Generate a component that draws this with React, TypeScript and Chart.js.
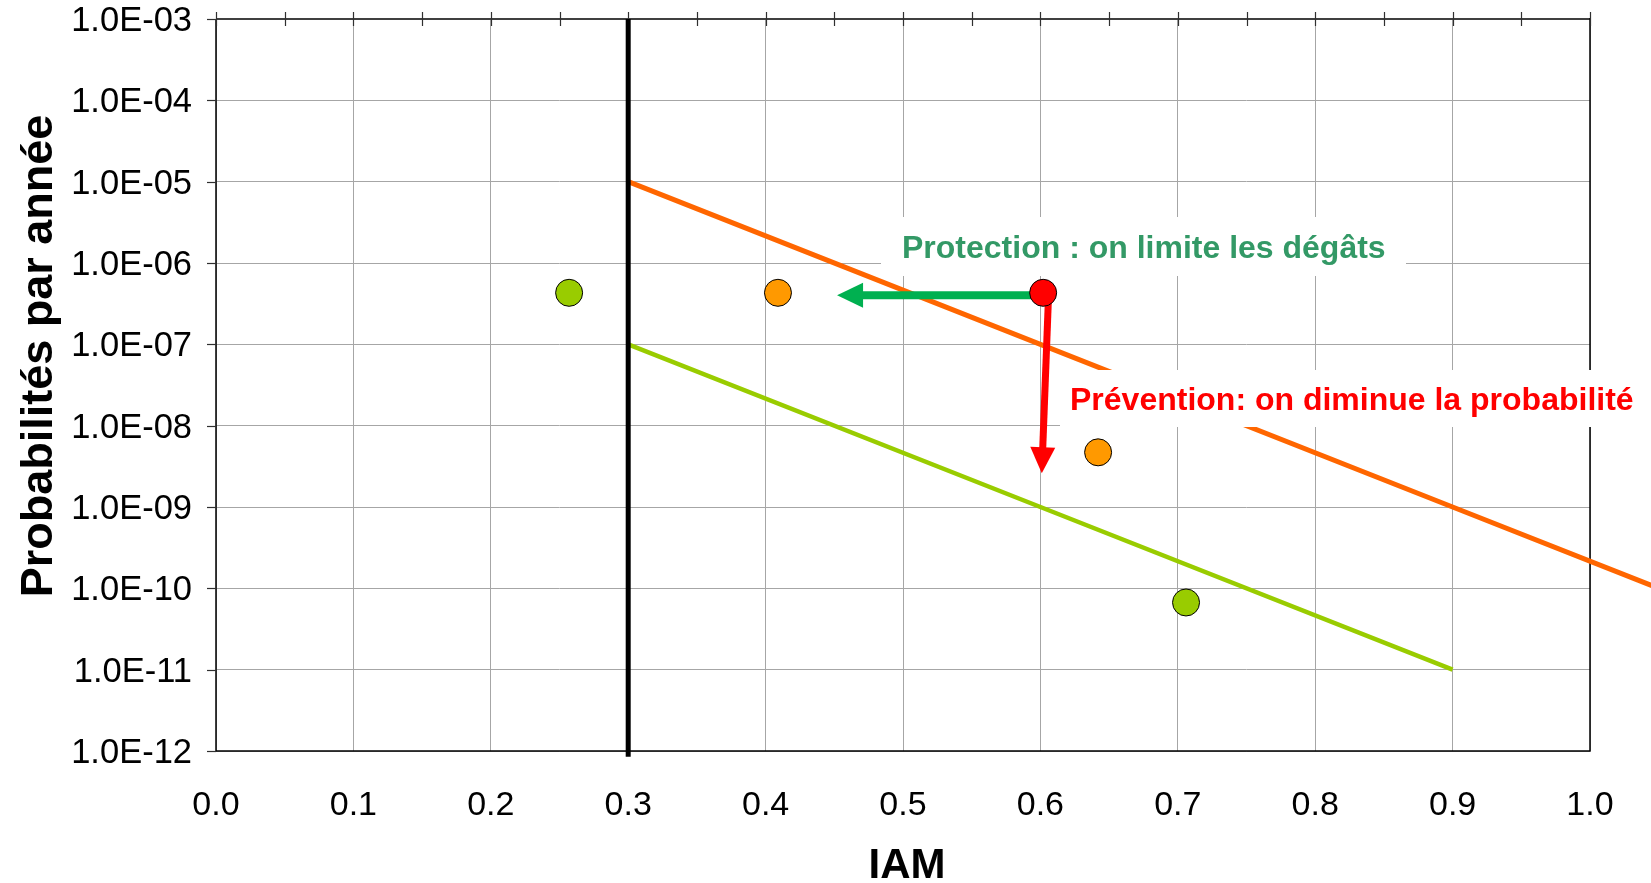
import React, { useEffect, useRef } from "react";
import { Chart, registerables } from "chart.js";

Chart.register(...registerables);

// ---------- data ----------
const xTickValues = [0, 0.1, 0.2, 0.3, 0.4, 0.5, 0.6, 0.7, 0.8, 0.9, 1.0];
const xTickLabels = ["0.0", "0.1", "0.2", "0.3", "0.4", "0.5", "0.6", "0.7", "0.8", "0.9", "1.0"];
const yTickValues = [1e-3, 1e-4, 1e-5, 1e-6, 1e-7, 1e-8, 1e-9, 1e-10, 1e-11, 1e-12];
const yTickLabels = ["1.0E-03", "1.0E-04", "1.0E-05", "1.0E-06", "1.0E-07", "1.0E-08", "1.0E-09", "1.0E-10", "1.0E-11", "1.0E-12"];
const topMinorTicks = [0, 0.05, 0.1, 0.15, 0.2, 0.25, 0.3, 0.35, 0.4, 0.45, 0.5, 0.55, 0.6, 0.65, 0.7, 0.75, 0.8, 0.85, 0.9, 0.95, 1.0];

const orangeLimitX = [0.3, 0.6, 0.9, 1.05];
const orangeLimitY = [1e-5, 1e-7, 1e-9, 1e-10];
const greenLimitX = [0.3, 0.6, 0.9];
const greenLimitY = [1e-7, 1e-9, 1e-11];
const thresholdX = [0.3, 0.3];
const thresholdY = [1e-3, 8.5e-13];

const scenarioX = [0.257, 0.409, 0.602, 0.642, 0.706];
const scenarioY = [4.3e-7, 4.3e-7, 4.3e-7, 4.7e-9, 6.7e-11];
const scenarioColors = ["#99cc00", "#ff9900", "#ff0000", "#ff9900", "#99cc00"];

const protectionArrowX = [0.602, 0.452];
const protectionArrowY = [4.0e-7, 4.0e-7];
const preventionArrowX = [0.606, 0.601];
const preventionArrowY = [4.3e-7, 2.6e-9];

const protectionText = "Protection : on limite les dégâts";
const preventionText = "Prévention: on diminue la probabilité";
const yTitle = "Probabilités par année";
const xTitle = "IAM";

const FONT = '"Liberation Sans", Arial, Helvetica, sans-serif';

function toPoints(xs: number[], ys: number[]) {
  return xs.map((x, i) => ({ x, y: ys[i] }));
}

function drawArrow(
  ctx: CanvasRenderingContext2D,
  x0: number, y0: number, x1: number, y1: number,
  color: string, shaft: number, headLen: number, headHalf: number
) {
  const dx = x1 - x0, dy = y1 - y0;
  const len = Math.hypot(dx, dy);
  const ux = dx / len, uy = dy / len;
  const bx = x1 - ux * headLen, by = y1 - uy * headLen;
  const nx = -uy, ny = ux;
  ctx.save();
  ctx.strokeStyle = color;
  ctx.fillStyle = color;
  ctx.lineWidth = shaft;
  ctx.lineCap = "butt";
  ctx.beginPath();
  ctx.moveTo(x0, y0);
  ctx.lineTo(bx + ux * 1, by + uy * 1);
  ctx.stroke();
  ctx.beginPath();
  ctx.moveTo(x1, y1);
  ctx.lineTo(bx + nx * headHalf, by + ny * headHalf);
  ctx.lineTo(bx - nx * headHalf, by - ny * headHalf);
  ctx.closePath();
  ctx.fill();
  ctx.restore();
}

const decorPlugin = {
  id: "decor",
  beforeDatasetsDraw(chart: any) {
    const { ctx, chartArea: a } = chart;
    const xs = chart.scales.x;
    const ys = chart.scales.y;
    ctx.save();
    ctx.lineCap = "butt";
    ctx.strokeStyle = "#404040";
    ctx.lineWidth = 2;
    ctx.beginPath();
    ctx.moveTo(a.left, a.top);
    ctx.lineTo(a.right, a.top);
    ctx.stroke();
    ctx.strokeStyle = "#000000";
    ctx.lineWidth = 1.5;
    ctx.beginPath();
    ctx.moveTo(a.left, a.top);
    ctx.lineTo(a.left, a.bottom);
    ctx.lineTo(a.right, a.bottom);
    ctx.lineTo(a.right, a.top - 1);
    ctx.stroke();
    ctx.strokeStyle = "#303030";
    ctx.lineWidth = 1.2;
    topMinorTicks.forEach((v) => {
      const px = Math.round(xs.getPixelForValue(v)) + 0.5;
      ctx.beginPath();
      ctx.moveTo(px, a.top - 7);
      ctx.lineTo(px, a.top + 7);
      ctx.stroke();
    });
    yTickValues.forEach((v) => {
      const py = Math.round(ys.getPixelForValue(v)) + 0.5;
      ctx.beginPath();
      ctx.moveTo(a.left - 9, py);
      ctx.lineTo(a.left, py);
      ctx.stroke();
    });
    ctx.restore();
  },
  beforeDatasetDraw(chart: any, args: any) {
    if (args.index !== 3) return;
    const { ctx } = chart;
    const xs = chart.scales.x;
    const ys = chart.scales.y;
    ctx.save();
    ctx.fillStyle = "#ffffff";
    ctx.fillRect(881, 217, 525, 59);
    ctx.fillRect(1060, 370, 591, 57);
    ctx.textAlign = "left";
    ctx.textBaseline = "alphabetic";
    ctx.font = `bold 32px ${FONT}`;
    ctx.fillStyle = "#339966";
    ctx.fillText(protectionText, 902, 258);
    ctx.font = `bold 32px ${FONT}`;
    ctx.fillStyle = "#ff0000";
    ctx.fillText(preventionText, 1070, 410);
    drawArrow(
      ctx,
      xs.getPixelForValue(protectionArrowX[0]), ys.getPixelForValue(protectionArrowY[0]),
      xs.getPixelForValue(protectionArrowX[1]), ys.getPixelForValue(protectionArrowY[1]),
      "#00b050", 8, 26, 12.5
    );
    drawArrow(
      ctx,
      xs.getPixelForValue(preventionArrowX[0]), ys.getPixelForValue(preventionArrowY[0]),
      xs.getPixelForValue(preventionArrowX[1]), ys.getPixelForValue(preventionArrowY[1]),
      "#ff0000", 7, 26, 12.5
    );
    ctx.restore();
  },
  afterDraw(chart: any) {
    const { ctx, chartArea: a } = chart;
    const xs = chart.scales.x;
    const ys = chart.scales.y;
    ctx.save();
    ctx.fillStyle = "#000000";
    ctx.font = `34.5px ${FONT}`;
    ctx.textAlign = "right";
    ctx.textBaseline = "alphabetic";
    yTickValues.forEach((v, i) => {
      const py = ys.getPixelForValue(v);
      ctx.fillText(yTickLabels[i], a.left - 24, py + 12);
    });
    ctx.font = `34px ${FONT}`;
    ctx.textAlign = "center";
    xTickValues.forEach((v, i) => {
      const px = xs.getPixelForValue(v);
      ctx.fillText(xTickLabels[i], px, a.bottom + 64);
    });
    ctx.font = `bold 42px ${FONT}`;
    ctx.fillText(xTitle, 907, 878);
    ctx.translate(52, 356);
    ctx.rotate(-Math.PI / 2);
    ctx.font = `bold 45px ${FONT}`;
    ctx.textAlign = "center";
    ctx.fillText(yTitle, 0, 0);
    ctx.restore();
  },
};

export default function App() {
  const ref = useRef<HTMLCanvasElement | null>(null);
  useEffect(() => {
    if (!ref.current) return;
    const chart = new Chart(ref.current, {
      type: "scatter",
      data: {
        datasets: [
          {
            label: "Limite orange",
            data: toPoints(orangeLimitX, orangeLimitY),
            showLine: true,
            borderColor: "#ff6600",
            borderWidth: 5,
            pointRadius: 0,
            clip: false as any,
            order: 3,
          },
          {
            label: "Limite verte",
            data: toPoints(greenLimitX, greenLimitY),
            showLine: true,
            borderColor: "#99cc00",
            borderWidth: 4.5,
            pointRadius: 0,
            clip: false as any,
            order: 2,
          },
          {
            label: "Seuil",
            data: toPoints(thresholdX, thresholdY),
            showLine: true,
            borderColor: "#000000",
            borderWidth: 5,
            pointRadius: 0,
            clip: false as any,
            order: 1,
          },
          {
            label: "Scénarios",
            data: toPoints(scenarioX, scenarioY),
            showLine: false,
            backgroundColor: scenarioColors,
            borderColor: "#000000",
            borderWidth: 1,
            pointRadius: 13.5,
            pointHoverRadius: 13.5,
            clip: false as any,
            order: 0,
          },
        ],
      },
      options: {
        animation: false,
        responsive: false,
        events: [],
        layout: { padding: { left: 216, top: 19, right: 61, bottom: 132 } },
        plugins: {
          legend: { display: false },
          tooltip: { enabled: false },
          title: { display: false },
        },
        scales: {
          x: {
            type: "linear",
            min: 0,
            max: 1,
            afterBuildTicks: (scale: any) => {
              scale.ticks = xTickValues.map((v) => ({ value: v }));
            },
            ticks: { display: false },
            grid: { color: "#a6a6a6", lineWidth: 1, drawTicks: false },
            border: { display: false },
          },
          y: {
            type: "logarithmic",
            min: 1e-12,
            max: 1e-3,
            afterBuildTicks: (scale: any) => {
              scale.ticks = yTickValues.map((v) => ({ value: v }));
            },
            ticks: { display: false },
            grid: { color: "#a6a6a6", lineWidth: 1, drawTicks: false },
            border: { display: false },
          },
        },
      },
      plugins: [decorPlugin],
    });
    return () => chart.destroy();
  }, []);
  return (
    <div style={{ position: "fixed", left: 0, top: 0, width: 1651, height: 883, background: "#ffffff" }}>
      <canvas ref={ref} width={1651} height={883} style={{ display: "block", width: 1651, height: 883 }} />
    </div>
  );
}
